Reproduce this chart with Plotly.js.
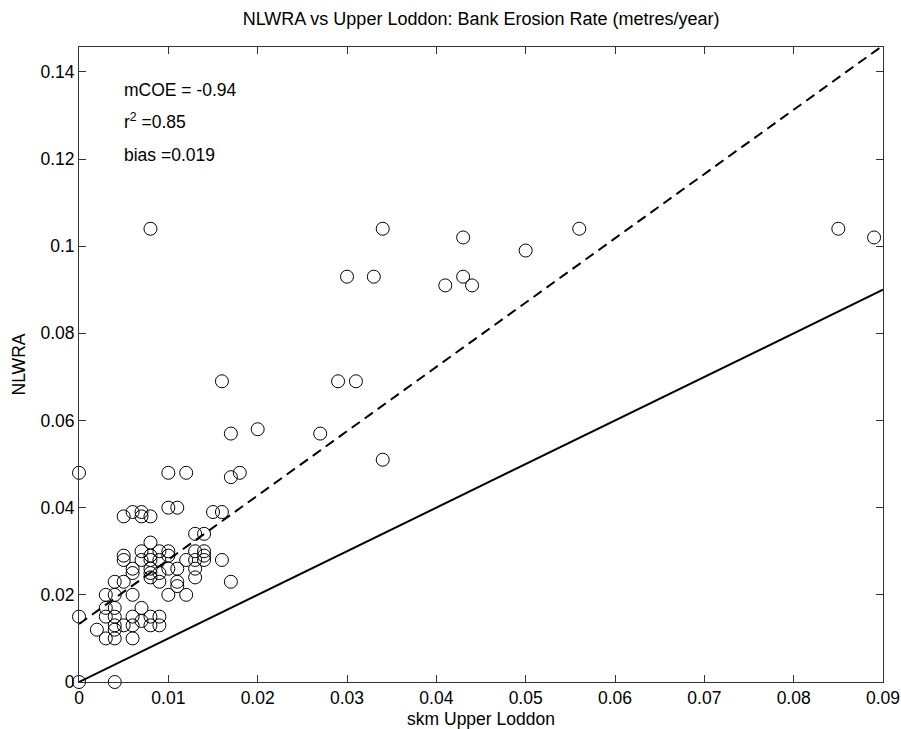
<!DOCTYPE html>
<html>
<head>
<meta charset="utf-8">
<script src="https://cdn.plot.ly/plotly-3.0.1.min.js"></script>
<style>html,body{margin:0;padding:0;background:#fff;}#chart{width:901px;height:729px;}</style>
</head>
<body>
<div id="chart"></div>
<script>
// skm Upper Loddon (x) vs NLWRA (y), bank erosion rate (metres/year)
const skmX = [
  0.008, 0.034, 0.030, 0.033, 0.043, 0.043, 0.041, 0.044, 0.050, 0.056, 0.085, 0.089,
  0.016, 0.029, 0.031, 0.017, 0.020, 0.027, 0.017, 0.018, 0.034, 0.000, 0.010, 0.012,
  0.005, 0.006, 0.007, 0.007, 0.008, 0.010, 0.011, 0.015, 0.016, 0.013, 0.014, 0.008,
  0.007, 0.009, 0.010, 0.013, 0.014, 0.005, 0.005, 0.007, 0.008, 0.008, 0.008, 0.008,
  0.008, 0.009, 0.010, 0.012, 0.013, 0.014, 0.014, 0.016, 0.006, 0.006, 0.010, 0.011,
  0.013, 0.013, 0.009, 0.009, 0.011, 0.011, 0.017, 0.004, 0.005, 0.003, 0.004, 0.006,
  0.010, 0.012, 0.003, 0.004, 0.007, 0.000, 0.003, 0.004, 0.006, 0.008, 0.009, 0.007,
  0.004, 0.005, 0.006, 0.008, 0.009, 0.004, 0.002, 0.003, 0.004, 0.006, 0.000, 0.004
];
const nlwraY = [
  0.104, 0.104, 0.093, 0.093, 0.102, 0.093, 0.091, 0.091, 0.099, 0.104, 0.104, 0.102,
  0.069, 0.069, 0.069, 0.057, 0.058, 0.057, 0.047, 0.048, 0.051, 0.048, 0.048, 0.048,
  0.038, 0.039, 0.039, 0.038, 0.038, 0.040, 0.040, 0.039, 0.039, 0.034, 0.034, 0.032,
  0.030, 0.030, 0.030, 0.030, 0.030, 0.029, 0.028, 0.028, 0.029, 0.028, 0.026, 0.025,
  0.024, 0.028, 0.029, 0.028, 0.028, 0.029, 0.028, 0.028, 0.026, 0.025, 0.026, 0.026,
  0.026, 0.024, 0.025, 0.023, 0.023, 0.022, 0.023, 0.023, 0.023, 0.020, 0.020, 0.020,
  0.020, 0.020, 0.017, 0.017, 0.017, 0.015, 0.015, 0.015, 0.015, 0.015, 0.015, 0.014,
  0.013, 0.013, 0.013, 0.013, 0.013, 0.012, 0.012, 0.010, 0.010, 0.010, 0.000, 0.000
];
// fitted regression line (dashed) and 1:1 line (solid)
const fitIntercept = 0.0133;
const fitSlope = 1.475;
const xRange = [0, 0.09];
const yRange = [0, 0.1457];
const xTicks = [0, 0.01, 0.02, 0.03, 0.04, 0.05, 0.06, 0.07, 0.08, 0.09];
const yTicks = [0, 0.02, 0.04, 0.06, 0.08, 0.1, 0.12, 0.14];
const statLabels = ["mCOE = -0.94", "r<sup>2</sup> =0.85", "bias =0.019"];

const FONT = '"Liberation Sans", Arial, Helvetica, sans-serif';
const FS = 17.5;

const traces = [
  {
    x: xRange, y: xRange.map(v => fitIntercept + fitSlope * v),
    type: 'scatter', mode: 'lines',
    line: {color: '#000', width: 2, dash: '10px,6px'}, showlegend: false
  },
  {
    x: xRange, y: xRange.map(v => v),
    type: 'scatter', mode: 'lines',
    line: {color: '#000', width: 2}, showlegend: false
  },
  {
    x: skmX, y: nlwraY, type: 'scatter', mode: 'markers', cliponaxis: false,
    marker: {symbol: 'circle-open', size: 13, color: '#000', line: {width: 1, color: '#000'}},
    hoverinfo: 'x+y', showlegend: false
  }
];

const statY = [0.932, 0.883, 0.830];
const annotations = statLabels.map((t, i) => ({
  text: t, xref: 'paper', yref: 'paper', x: 0.054, y: statY[i],
  xanchor: 'left', yanchor: 'middle', showarrow: false,
  font: {family: FONT, size: FS, color: '#000'}
}));

const axisCommon = {
  showline: true, linecolor: '#333', linewidth: 1, mirror: 'ticks',
  ticks: 'inside', ticklen: 7, tickcolor: '#333', tickwidth: 1,
  showgrid: false, zeroline: false,
  tickfont: {family: FONT, size: FS, color: '#000'}
};

const layout = {
  width: 901, height: 729,
  margin: {l: 79, r: 18, t: 47, b: 47},
  paper_bgcolor: '#fff', plot_bgcolor: '#fff',
  font: {family: FONT, color: '#000'},
  title: {
    text: 'NLWRA vs Upper Loddon: Bank Erosion Rate (metres/year)',
    font: {family: FONT, size: 18, color: '#000'},
    x: 0.534, xanchor: 'center', y: 0.975, yanchor: 'middle'
  },
  xaxis: Object.assign({}, axisCommon, {
    range: xRange, tickvals: xTicks, ticktext: xTicks.map(String),
    title: {text: 'skm Upper Loddon', font: {family: FONT, size: FS, color: '#000'}, standoff: 6}
  }),
  yaxis: Object.assign({}, axisCommon, {
    range: yRange, tickvals: yTicks, ticktext: yTicks.map(String),
    title: {text: 'NLWRA', font: {family: FONT, size: FS, color: '#000'}, standoff: 10}
  }),
  annotations: annotations,
  showlegend: false
};

Plotly.newPlot('chart', traces, layout, {displayModeBar: false, staticPlot: true});
</script>
</body>
</html>
